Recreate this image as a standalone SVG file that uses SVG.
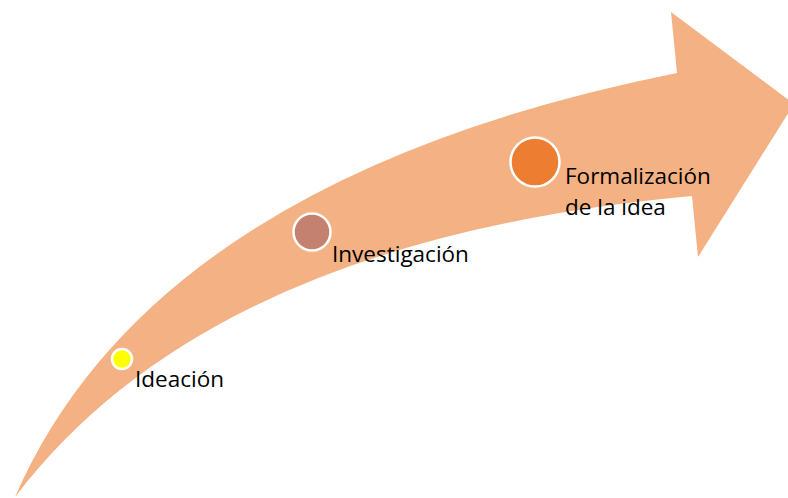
<svg xmlns="http://www.w3.org/2000/svg" width="788" height="498" viewBox="0 0 788 498">
  <style>
    .lbl { font-family: "Open Sans", "Liberation Sans", sans-serif; font-size: 22.5px; fill: #000000; }
    .dot { stroke: #FFFFFF; stroke-width: 2.5; }
  </style>
  <rect width="788" height="498" fill="#FFFFFF"/>
  <g id="arrow">
    <path d="M15,497 Q154,178 677,73 L671,12 L794,104 L698,257 L692,196 Q210,240 15,497 Z" fill="#F4B183"/>
  </g>
  <g id="connectors"></g>
  <g id="node-ideacion">
    <circle class="dot" cx="122" cy="359" r="10" fill="#FFFF00"/>
    <text class="lbl" x="135" y="387">Ideación</text>
  </g>
  <g id="node-investigacion">
    <circle class="dot" cx="312" cy="232" r="18.5" fill="#C48170"/>
    <text class="lbl" x="332" y="262">Investigación</text>
  </g>
  <g id="node-formalizacion">
    <circle class="dot" cx="535" cy="162" r="24.5" fill="#ED7D31"/>
    <text class="lbl" x="565" y="184">Formalización</text>
    <text class="lbl" x="565" y="215">de la idea</text>
  </g>
</svg>
